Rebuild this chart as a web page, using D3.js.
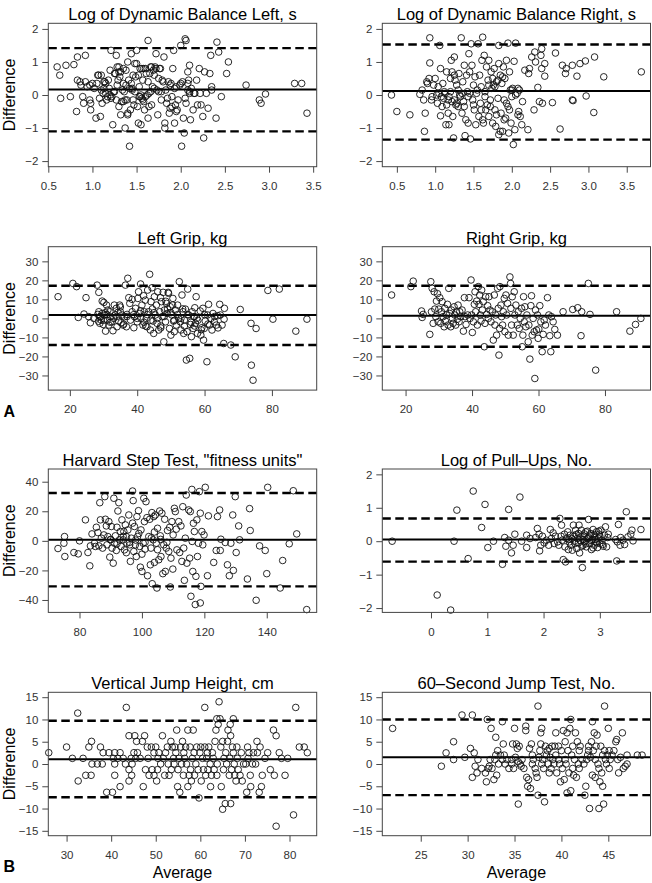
<!DOCTYPE html>
<html>
<head>
<meta charset="utf-8">
<script src="https://cdn.jsdelivr.net/npm/d3@7"></script>
<style>
  body { margin: 0; background: #fff; }
  svg text { font-family: "Liberation Sans", Arial, Helvetica, sans-serif; }
</style>
</head>
<body>
<script>
// Bland-Altman plots, values: [average, difference]
var dynLeft = [[0.6,0.85],[0.63,0.6],[0.64,-0.1],[0.7,0.9],[0.75,-0.05],[0.79,0.92],[0.83,1.15],[0.82,-0.5],[0.83,0.45],[0.86,0.4],[0.87,0.3],[0.89,-0.05],[0.9,-0.25],[0.92,1.2],[0.92,0.4],[0.94,0.25],[0.97,0.3],[0.97,-0.15],[0.98,-0.25],[0.98,-0.45],[1.0,0.35],[1.02,0.2],[1.04,-0.7],[1.07,0.6],[1.08,-0.1],[1.09,-0.65],[1.1,0.6],[1.11,-0.25],[1.13,0.2],[1.14,0.4],[1.15,0.05],[1.16,-0.15],[1.18,0.45],[1.19,0.2],[1.2,0.75],[1.21,1.35],[1.21,-0.1],[1.23,-0.9],[1.25,0.65],[1.27,1.2],[1.27,-0.15],[1.28,0.85],[1.29,0.45],[1.3,-0.35],[1.31,0.55],[1.32,-0.6],[1.34,0.15],[1.35,0.8],[1.35,0.35],[1.37,-1.0],[1.37,-0.15],[1.38,0.75],[1.4,-0.6],[1.4,1.0],[1.41,0.45],[1.42,-1.55],[1.43,-0.45],[1.44,1.25],[1.45,0.15],[1.46,-0.15],[1.48,0.95],[1.49,0.55],[1.5,1.35],[1.51,-0.35],[1.52,-0.85],[1.53,0.25],[1.54,-0.05],[1.54,0.8],[1.55,-0.9],[1.57,-0.15],[1.57,0.45],[1.58,0.8],[1.59,-0.45],[1.61,0.65],[1.63,-0.7],[1.63,1.65],[1.64,0.05],[1.66,0.85],[1.67,-0.3],[1.68,0.25],[1.69,0.75],[1.71,0.85],[1.72,1.25],[1.73,0.15],[1.74,-0.6],[1.75,0.5],[1.77,0.8],[1.78,-0.15],[1.79,0.45],[1.81,1.15],[1.82,-0.85],[1.82,-1.0],[1.83,0.15],[1.84,-0.25],[1.86,0.4],[1.87,-0.55],[1.88,-0.4],[1.89,0.35],[1.9,-0.05],[1.91,0.8],[1.92,1.35],[1.93,-0.85],[1.94,-0.3],[1.95,0.25],[1.96,-0.45],[1.97,-0.15],[1.99,0.3],[2.0,1.5],[2.01,-1.55],[2.02,0.4],[2.03,-0.7],[2.04,-1.15],[2.05,1.7],[2.06,1.65],[2.06,-0.25],[2.08,0.15],[2.08,0.7],[2.09,0.45],[2.1,0.05],[2.1,0.9],[2.11,-0.75],[2.12,0.2],[2.14,-0.45],[2.16,0.05],[2.18,0.45],[2.19,-0.3],[2.21,0.8],[2.22,0.05],[2.23,-0.3],[2.25,-0.65],[2.26,-1.3],[2.27,0.7],[2.29,0.05],[2.31,-0.4],[2.33,0.65],[2.34,1.2],[2.35,0.25],[2.35,0.15],[2.4,-0.7],[2.41,1.6],[2.43,1.3],[2.46,-0.05],[2.52,0.65],[2.54,1.0],[2.74,0.3],[2.89,-0.15],[2.91,-0.25],[2.96,0.03],[3.29,0.35],[3.37,0.35],[3.43,-0.55],
  [1.05,0.35],[1.1,0.15],[1.12,0.05],[1.15,0.35],[1.17,-0.05],[1.2,0.0],[1.22,-0.05],[1.24,0.1],[1.26,0.65],[1.3,0.85],[1.32,0.7],[1.33,-0.2],[1.36,0.1],[1.38,0.3],[1.39,-0.15],[1.42,0.2],[1.44,0.35],[1.46,0.6],[1.47,-0.3],[1.48,0.1],[1.5,0.95],[1.52,0.6],[1.53,-0.05],[1.55,0.0],[1.56,0.8],[1.58,-0.2],[1.6,0.8],[1.62,0.0],[1.63,0.4],[1.65,0.65],[1.67,0.85],[1.7,0.6],[1.72,0.8],[1.75,0.1],[1.78,0.1],[1.8,0.4],[1.85,-0.1],[1.88,0.3],[1.9,-0.35],[1.93,0.2],[1.95,-0.5],[2.0,0.35],[2.05,-0.1],[2.08,0.35],[2.1,0.1],[2.15,0.05],[1.06,0.6],[1.13,0.4],[1.28,0.3],[1.4,-0.55],[1.45,0.2],[1.56,-0.1],[1.6,-0.05],[1.64,-0.35],[1.66,0.1],[1.7,0.2],[1.76,0.8],[1.35,-0.2],[1.3,0.7],[1.25,0.1]];

var dynRight = [[0.43,0],[0.5,-0.5],[0.67,-0.6],[0.8,0.02],[0.83,0.15],[0.85,-0.15],[0.86,-1.1],[0.87,-0.55],[0.89,0.4],[0.9,0.35],[0.92,0.5],[0.93,1.73],[0.93,0.97],[0.95,-0.15],[0.96,-0.05],[0.98,0.3],[1.0,0.5],[1.02,0.0],[1.03,-0.25],[1.04,0.25],[1.06,1.5],[1.07,0.8],[1.08,-0.05],[1.09,-0.35],[1.07,-0.63],[1.1,0.35],[1.11,-0.1],[1.13,0.05],[1.14,-0.9],[1.15,0.7],[1.17,-0.15],[1.17,-0.55],[1.18,-0.9],[1.2,0.5],[1.21,1.05],[1.22,-0.2],[1.23,-0.65],[1.24,-1.3],[1.25,1.15],[1.26,0.45],[1.27,-0.3],[1.28,0.3],[1.3,-0.35],[1.3,0.15],[1.31,0.65],[1.33,-0.05],[1.34,1.73],[1.35,-0.55],[1.36,0.4],[1.37,-0.2],[1.38,0.9],[1.39,-1.23],[1.4,-0.75],[1.41,0.6],[1.43,-0.05],[1.43,-0.85],[1.44,1.25],[1.46,-1.33],[1.47,1.55],[1.48,0.9],[1.49,-0.15],[1.5,0.3],[1.51,-0.45],[1.52,0.55],[1.53,-0.9],[1.54,0.05],[1.56,1.55],[1.57,-0.65],[1.58,0.6],[1.59,-0.25],[1.6,0.25],[1.61,1.05],[1.62,1.75],[1.63,-0.85],[1.64,1.2],[1.65,-0.05],[1.66,-0.45],[1.67,0.85],[1.69,0.45],[1.7,1.05],[1.7,-0.65],[1.72,-0.15],[1.73,0.7],[1.74,0.2],[1.75,-0.85],[1.76,0.3],[1.77,0.8],[1.78,-0.45],[1.79,-0.95],[1.8,0.4],[1.82,-0.1],[1.83,1.5],[1.83,-1.2],[1.83,0.95],[1.85,-1.1],[1.86,-0.55],[1.87,0.35],[1.88,-1.1],[1.89,0.85],[1.9,-0.15],[1.91,0.5],[1.92,-0.7],[1.93,1.05],[1.95,-0.35],[1.96,-1.15],[1.97,0.7],[1.98,0.15],[1.95,1.57],[1.99,-0.85],[2.0,-0.05],[2.01,0.2],[2.02,-1.5],[2.03,1.02],[2.04,-1.05],[2.05,1.57],[2.07,0.05],[2.08,0.2],[2.09,-0.5],[2.1,0.15],[2.11,-0.65],[2.13,-0.9],[2.14,-0.2],[2.17,0.75],[2.21,-1.05],[2.22,0.65],[2.23,0.8],[2.26,1.15],[2.29,-0.45],[2.3,1.3],[2.31,1.0],[2.34,0.23],[2.36,-0.2],[2.38,1.2],[2.39,1.4],[2.39,0.8],[2.4,-0.25],[2.43,0.57],[2.43,0.95],[2.53,-0.23],[2.57,1.27],[2.63,-1.03],[2.66,0.9],[2.7,0.65],[2.71,0.8],[2.79,-0.15],[2.79,0.9],[2.8,-0.17],[2.85,0.57],[2.89,0.95],[2.96,1.03],[2.97,-0.03],[3.07,-0.53],[3.08,1.15],[3.2,0.55],[3.69,0.7],
  [1.05,0.05],[1.12,0.1],[1.18,-0.05],[1.2,0.1],[1.25,-0.15],[1.28,-0.25],[1.32,0.0],[1.35,0.05],[1.38,-0.35],[1.42,0.1],[1.45,0.05],[1.5,-0.3],[1.55,0.15],[1.6,-0.45],[1.65,0.1],[1.7,0.3],[1.72,-0.35],[1.75,0.5],[1.78,0.25],[1.8,-0.6],[1.85,0.6],[1.88,0.55],[1.9,-0.75],[1.93,-0.25],[1.97,-0.45],[2.0,0.15],[2.05,0.0],[2.08,-0.6],[1.25,0.6],[1.45,0.7],[1.62,-0.75],[1.68,-0.3],[1.82,0.45],[1.15,-0.3],[1.22,0.7]];

var gripLeft = [[16.5,11.4],[20.9,18.4],[22,16.7],[22.5,0.5],[24.2,2.3],[24.8,10.9],[25.6,0.9],[26.1,-2.3],[27.1,0],[28.1,17.5],[28.3,2.1],[28.6,13.7],[28.6,3.5],[28.9,-2.6],[29.1,0.9],[29.3,-0.9],[29.6,9.1],[29.6,2.6],[29.9,-3.2],[30.1,8.4],[30.3,1.8],[30.6,-6.7],[30.9,7.0],[31.1,-0.9],[31.3,4.4],[31.6,-3.5],[31.9,3.5],[32.1,0.9],[32.5,-1.8],[32.8,-6.5],[33.2,7.0],[33.5,1.8],[33.8,5.3],[34,-4.4],[34.3,3.2],[34.5,-1.4],[34.8,7.0],[35,3.5],[35.2,-2.3],[35.5,1.8],[35.8,-3.5],[36.2,0.9],[36.5,17.5],[36.8,-4.4],[37,2.1],[37.2,21.1],[37.5,10.9],[37.8,7.9],[38,-0.9],[38.5,3.5],[39,-4.9],[39.2,0.9],[39.5,5.3],[40,-1.8],[40.2,10.5],[40.4,14],[40.8,2.6],[41,18.1],[41.1,0],[41.4,7],[41.7,-3.5],[41.9,11.9],[42.1,3.5],[42.4,9.6],[42.7,0],[42.9,-4.4],[43.1,14.9],[43.4,3.5],[43.7,23.2],[43.9,-6.1],[44.1,8.8],[44.4,16.1],[44.7,-1.4],[44.9,-7.9],[45.1,11.4],[45.4,1.8],[45.7,7],[45.9,-2.6],[46.1,14],[46.4,-6.1],[46.7,3.5],[46.9,10.9],[47.2,8.8],[47.4,0.9],[47.7,13.7],[47.9,-12.3],[48.1,4.4],[48.4,-1.8],[48.7,7.9],[48.9,2.6],[49.2,13.7],[49.3,13.2],[49.6,-5.3],[49.8,6.1],[50,-8.8],[50.3,1.8],[50.6,10.5],[50.8,-1.4],[51,-7],[51.3,4.4],[51.6,-3.5],[52,7],[52.3,0],[52.5,19.3],[52.8,-1.8],[53,-6.1],[53.3,12.3],[53.6,3.5],[53.8,-7.9],[54,-0.9],[54.3,4.9],[54.6,-21.9],[54.8,-7],[55,15.4],[55.3,1.8],[55.6,-21],[55.8,-3.2],[56.1,-9.6],[56.3,3.5],[56.6,-5.3],[56.8,0.9],[57.1,5.6],[57.3,-2.6],[57.5,11.4],[57.7,0],[57.9,-7.9],[58.7,3.9],[58.9,-8.8],[59.2,-4.9],[59.5,5.3],[59.7,-11.4],[59.9,-5.3],[60.2,-1.4],[60.7,-22.8],[60.9,1.8],[61.2,7.4],[61.5,-3.5],[61.9,0],[62.2,-6.1],[62.5,2.6],[62.9,-1.8],[63.5,-3.5],[63.9,1.4],[64.5,7.4],[64.7,1.8],[65.2,-3.5],[65.7,-13.2],[65.8,-0.4],[65.9,5.3],[67.8,-14],[69.1,-20.2],[70.6,4.7],[73.8,-2.6],[73.9,-24.6],[74.4,-32.5],[75.3,-5.3],[78.8,14.7],[80.3,-0.4],[82.2,15.4],[87.1,-6.7],[90.4,-0.4],
  [29,1],[30,-1],[31,2],[32,-2],[33,0],[34,1],[36,-3],[37,1],[39,2],[40,0],[41,4],[42,-2],[43,2],[44,-1],[45,3],[46,0],[47,-4],[48,1],[49,5],[50,3],[51,-1],[52,2],[53,0],[54,-4],[55,2],[56,-2],[57,1],[58,-1],[59,-6],[60,2],[61,-3],[63,1],[64,-5],[28.5,-1.5],[30.5,3],[35,6],[38.5,10],[42.5,-4],[44.5,5],[47,-5],[48.5,9],[50.5,7],[53.5,5],[57,-4]];

var gripRight = [[15.8,12.3],[21.6,16.7],[22.3,19.6],[24.8,3.9],[25,0.5],[25.3,2.1],[27.3,-8.4],[27.6,19.3],[27.8,3.5],[28,15.8],[28.3,-2.6],[28.6,14],[28.8,4.9],[29.1,0.9],[29.3,9.1],[29.6,13],[29.8,-1.8],[30,4.9],[30.3,10.9],[30.6,-2.6],[30.8,3.5],[31,8.8],[31.3,0.9],[31.6,-4.4],[31.8,5.3],[32,-1.4],[32.3,1.8],[32.6,7.4],[32.8,-3.5],[33,15.8],[33.3,2.6],[33.6,-4.4],[33.8,4.4],[34.1,0],[34.3,-2.6],[34.6,6.1],[34.8,1.8],[35.1,-3.5],[35.3,3.5],[35.6,-0.4],[35.8,7],[36.1,-1.8],[36.3,3.5],[36.6,0.9],[37,4.4],[37.4,-6.7],[37.7,10.9],[37.9,0.9],[38.2,-3.2],[38.7,1.8],[39.1,10.9],[39.4,0],[39.7,20.2],[39.9,1.8],[40.1,-7.4],[40.4,-1.8],[40.7,7.4],[40.9,14],[41.1,3.5],[41.4,9.1],[41.6,-3.5],[41.9,16.7],[42.1,7.4],[42.3,12.3],[42.5,1.8],[42.7,-1.4],[42.9,14.9],[43.1,4.4],[43.4,8.8],[43.7,-14.9],[43.9,-2.6],[44.1,11.4],[44.4,2.1],[44.7,6.7],[44.9,0],[45.1,11.4],[45.4,4.4],[45.7,-1.8],[46.1,3.5],[46.4,-11.4],[46.7,12.3],[46.9,-3.5],[47.1,1.8],[47.4,-8.8],[47.7,15.8],[47.9,5.3],[48.1,-19.3],[48.3,-5.3],[48.4,16.7],[48.7,7],[48.9,0.9],[49.2,-3.5],[49.4,3.5],[49.7,10.5],[49.9,-7],[50.2,12.3],[50.4,1.8],[50.7,7.9],[50.9,-8.8],[51.4,21.8],[51.6,18.4],[51.7,5.3],[51.9,-3.5],[52.1,11.4],[52.4,-8.8],[52.7,14],[52.9,1.8],[53.2,7],[53.6,-3.5],[53.9,3.5],[54.2,-5.3],[54.5,0],[54.9,5.3],[55.1,-14.9],[55.3,-8.8],[55.5,11.4],[55.7,-1.8],[55.9,6.1],[56.2,-4.4],[56.5,1.8],[56.9,-12.3],[57.1,-3.5],[57.4,-21.4],[57.7,6.7],[57.9,11.9],[58.1,-8.8],[58.4,0],[58.7,-7],[58.9,-31.6],[59.1,4.4],[59.4,-6.1],[59.7,1.8],[59.9,-10.5],[60.1,-5.6],[60.4,6.7],[60.7,-1.8],[61.1,-17.5],[61.4,-8.4],[61.7,-0.9],[62.1,-3.5],[62.7,10.9],[63.1,1.8],[63.4,-9.1],[63.7,-17.5],[63.9,0.9],[64.4,-1.8],[64.9,-5.8],[65.7,-8.8],[67.4,3.5],[70.3,4.7],[71.8,5.6],[72.8,-9.1],[73,3.5],[75,18.4],[75.5,2.1],[77.2,-27.2],[83.5,3.5],[87.5,-6.7],[89.2,-3.2],[90.8,0]];

var harvard = [[73.1,-5.2],[75,-1.6],[75.2,2.9],[75.3,-10.6],[78.2,-7.9],[79.6,-8.8],[80,0],[81.9,14.2],[82.7,-7.9],[83.3,-16.9],[83.5,-3.4],[84,4.7],[84.8,-1.6],[85.1,-3.8],[85.4,9.2],[85.9,5.6],[86.2,-3.4],[86.5,25.8],[86.7,14.2],[87,1.8],[87.4,-4.9],[87.8,4],[88.1,29.9],[88.3,14.6],[88.6,10.1],[88.8,-2.7],[89.1,2.9],[89.4,13],[89.7,-11],[89.9,0.7],[90.2,9.7],[90.4,-4.9],[90.8,-15.1],[91,28.8],[91.2,-1.6],[91.5,3.4],[91.8,-6.5],[92,9.2],[92.3,20.2],[92.6,25.8],[92.8,0.7],[93.1,6.3],[93.3,-3.8],[93.6,14.2],[94,0.7],[94.2,6.3],[94.4,-6.1],[94.7,10.8],[95,2.9],[95.2,-1.6],[95.5,7.4],[95.8,17.5],[96.1,-2.7],[96.3,-13.9],[96.6,1.8],[97,33.7],[97.2,27.2],[97.4,-7.2],[97.6,9.7],[97.9,-2.7],[98.2,-10.6],[98.4,16.4],[98.6,2.9],[98.9,20.4],[99.3,-3.8],[99.5,-17.8],[99.7,7.4],[100,-20.7],[100.4,-1.6],[100.6,28.8],[100.8,13],[101,-5.6],[101.3,26.5],[101.6,15.7],[101.8,-23.6],[102.2,2.9],[102.5,14.6],[102.7,-16.2],[102.9,-4.9],[103.2,19.1],[103.3,-29],[103.6,0.7],[103.8,16.4],[104,-14.6],[104.3,17.5],[104.6,-1.6],[104.8,-31.9],[105,8.5],[105.4,-12.8],[105.7,20.2],[105.9,3.4],[106.1,-10.6],[106.4,18.7],[106.7,-22.2],[107,-2.7],[107.3,14.6],[107.5,-20.7],[107.8,-4.9],[108.2,7],[108.6,-7.2],[108.9,9.2],[109.1,-31.2],[109.3,-11.7],[109.6,13],[109.9,-19.1],[110.4,22],[110.7,19.8],[111,7.9],[111.2,-6.1],[111.8,13],[112.1,-7.9],[112.5,10.1],[112.8,-13.9],[113.1,23.1],[113.4,-4.9],[113.6,-26.7],[113.9,1.8],[114.2,31],[114.4,-15.1],[115,20.9],[115.3,-11.7],[115.5,19.8],[115.7,-37.5],[116,34.8],[116.1,-0.4],[116.3,-20.7],[116.5,11.9],[116.8,6.3],[117.1,-43.1],[117.3,-24],[117.6,14.2],[117.8,-10.6],[118.1,-1.6],[118.4,33.3],[118.7,18.7],[118.7,-42],[118.9,-30.8],[119.2,6.3],[119.5,-2.7],[119.9,4],[120.3,36.2],[121,-23.6],[121.3,16.9],[123,-14.6],[123.8,-6.5],[124.2,16.4],[124.9,20.9],[125.1,-6.5],[125.3,1.1],[126.7,-1.1],[127.4,-16.2],[128,-23.6],[128.5,-1.6],[129.1,17.5],[129.3,-20],[129.9,29.9],[130.2,-7.9],[131,10.1],[131.3,0.7],[133.8,-25.8],[134.5,21.8],[134.7,7],[136.6,-40.2],[137.7,-3.4],[139.5,-6.5],[140,-22.2],[140.3,36.2],[144.3,-31.9],[145.1,-13.3],[147.2,-2],[148.5,33.9],[149.6,4.7],[152.8,-46.5],
  [90,1],[92,-2],[94,3],[96,-1],[98,0.5],[99,5],[101,-1],[103,2],[105,-6],[106,1],[108,-1],[110,4],[95,-8],[97,12],[100,-9],[104,6]];

var pullUps = [[-0.69,0],[0.11,-1.61],[0.35,-2.06],[0.41,0],[0.46,0.93],[0.66,-0.52],[0.75,1.5],[0.9,0.41],[0.96,1.1],[1.01,-0.19],[1.11,0],[1.27,-0.69],[1.31,0.11],[1.33,-0.15],[1.38,0.95],[1.38,0.03],[1.43,-0.35],[1.46,-0.12],[1.49,0.21],[1.58,1.32],[1.61,0],[1.7,0.18],[1.7,-0.19],[1.76,0.08],[1.86,0.11],[1.89,0.38],[1.92,0.21],[1.93,-0.29],[1.95,-0.12],[1.98,0.15],[2.01,-0.05],[2.05,0.03],[2.09,-0.12],[2.12,0.35],[2.14,0.08],[2.17,0.25],[2.19,-0.07],[2.21,0.15],[2.25,-0.02],[2.27,-0.12],[2.29,0.68],[2.31,0.15],[2.32,0.48],[2.33,0.03],[2.35,-0.55],[2.37,0.21],[2.38,-0.17],[2.39,-0.62],[2.41,0.08],[2.43,0.28],[2.44,-0.25],[2.46,-0.02],[2.47,0.18],[2.49,-0.12],[2.5,0.08],[2.51,-0.27],[2.53,0.48],[2.54,0.15],[2.56,-0.07],[2.57,0.33],[2.59,-0.22],[2.6,0.08],[2.62,0.23],[2.63,0.48],[2.64,-0.35],[2.66,0.01],[2.67,0.33],[2.69,-0.79],[2.7,-0.12],[2.72,0.15],[2.73,-0.02],[2.75,0.28],[2.76,-0.17],[2.78,0.08],[2.8,0.65],[2.82,-0.07],[2.84,0.23],[2.85,-0.25],[2.87,0.05],[2.88,0.35],[2.9,-0.12],[2.91,0.13],[2.93,-0.02],[2.94,0.28],[2.96,-0.19],[2.97,0.08],[2.99,0.21],[3.0,-0.07],[3.02,0.33],[3.04,0.03],[3.06,-0.15],[3.08,0.18],[3.1,0.43],[3.12,-0.17],[3.14,0.11],[3.15,0.21],[3.28,0.05],[3.3,-0.59],[3.31,-0.02],[3.33,0.5],[3.36,-0.12],[3.37,0.11],[3.41,0.03],[3.44,-0.1],[3.47,0.88],[3.5,0.13],[3.55,0.21],[3.57,0.33],[3.59,0.01],[3.73,0.35],
  [2.45,0.05],[2.55,0.0],[2.65,0.12],[2.7,0.05],[2.75,-0.08],[2.8,0.1],[2.85,0.02],[2.9,0.2],[2.95,-0.05],[3.0,0.15],[3.05,-0.1],[2.58,0.2],[2.68,-0.15],[2.78,0.3],[2.88,-0.2],[2.98,0.3],[2.62,-0.05],[2.72,0.22],[2.82,0.18],[2.92,0.05]];

var vertJump = [[26,2.54],[30,3.81],[31.3,1.27],[32.5,11.43],[32.6,-3.81],[33.7,1.27],[34.3,-2.54],[35,3.81],[35.5,-2.54],[35.6,5.08],[35.7,0],[36.9,0],[37.6,3.81],[38,0],[38.2,2.54],[39,-6.35],[39.5,2.54],[40.3,-6.35],[40.5,1.27],[40.8,2.54],[40.8,0],[40.8,-2.54],[41.5,1.27],[42,2.54],[42,-5.08],[42.7,1.27],[43.2,0],[43.4,12.7],[44,6.35],[44,-1.27],[44,-3.81],[44.5,1.27],[44.6,-2.54],[44.7,0],[45.1,2.54],[45.3,6.35],[45.5,1.27],[45.7,5.08],[45.9,2.54],[46.5,1.27],[47,5.08],[47.2,-5.08],[47.5,6.35],[47.7,-1.27],[48.1,3.81],[48.3,1.27],[48.5,-2.54],[49,3.81],[49.2,-1.27],[49.6,2.54],[49.6,-2.54],[50,3.81],[50.2,-3.81],[50.4,-1.27],[50.5,1.27],[50.7,2.54],[51.1,0],[51.5,6.35],[51.7,1.27],[52,-2.54],[52.2,2.54],[52.6,3.81],[52.8,0],[53,-2.54],[53.4,5.08],[53.5,-1.27],[53.7,3.81],[54,1.27],[54.1,0],[54.3,3.81],[54.5,2.54],[54.7,7.62],[54.9,-5.08],[55,-1.27],[55.2,1.27],[55.4,-6.35],[55.6,3.81],[55.8,0],[56,5.08],[56.2,-2.54],[56.3,2.54],[56.5,1.27],[56.7,3.81],[56.9,0],[57.2,7.62],[57.2,-5.08],[57.5,-2.54],[57.7,3.81],[57.8,-1.27],[58,-3.81],[58.2,1.27],[58.4,7.62],[58.6,2.54],[58.7,-2.54],[59,0],[59.2,3.81],[59.5,-1.27],[59.7,-7.62],[59.9,2.54],[60.1,3.81],[60.2,-3.81],[60.5,1.27],[60.7,-1.27],[61,12.7],[61,3.81],[61.2,-2.54],[61.4,1.27],[61.6,2.54],[61.7,-1.27],[61.9,3.81],[62.2,0],[62.3,-5.08],[62.5,-2.54],[62.7,2.54],[62.9,1.27],[63.1,-1.27],[63.3,5.08],[63.5,7.62],[63.7,10.16],[63.7,-2.54],[63.8,0],[64,8.89],[64.2,13.97],[64.4,10.16],[64.6,3.81],[64.7,-5.08],[65,-10.16],[65,5.08],[65.2,-1.27],[65.3,1.27],[65.6,-8.89],[65.7,2.54],[65.9,0],[66.1,5.08],[66.2,7.62],[66.5,-2.54],[66.6,1.27],[66.7,8.89],[66.8,-8.89],[66.8,6.35],[67,-1.27],[67.2,3.81],[67.4,10.16],[67.4,2.54],[67.6,0],[67.7,-2.54],[68,-3.81],[68.2,3.81],[68.3,1.27],[68.5,-1.27],[68.9,-2.54],[69.2,2.54],[69.4,-3.81],[69.7,0],[70.2,0],[70.4,-6.35],[70.6,3.81],[70.7,1.27],[70.9,2.54],[71.2,-2.54],[71.3,-5.08],[71.7,0],[71.9,2.54],[72.4,0],[72.7,5.08],[72.8,2.54],[73.2,-6.35],[73.4,3.81],[73.7,-5.08],[73.9,-2.54],[74.5,1.27],[75.1,2.54],[75.7,-1.27],[76.4,7.62],[76.6,-2.54],[77,6.35],[77,-13.97],[77.7,2.54],[78.2,1.27],[79,-2.54],[79.6,1.27],[80.9,-11.43],[81.4,12.7],[82.2,3.81],[83.3,3.81],[84,2.54]];

var jump60 = [[22,8],[27.2,-0.5],[27.7,2.5],[28.5,5],[28.5,1],[29.4,11],[29.7,1.5],[30.3,3.5],[30.5,11],[30.5,-3],[30.7,2.5],[30.8,-0.5],[31,-2],[31.1,1],[31.5,-1],[31.9,-2],[32,-4],[32.1,10],[32.2,-1],[32.3,-0.5],[32.4,1],[32.5,8],[32.6,-1],[32.8,-3.5],[32.9,1],[33,6],[33,2],[33.1,-2.5],[33.2,3],[33.3,0],[33.5,2],[33.7,1],[33.7,9.5],[33.8,4.5],[33.9,2],[34,0],[34.2,1],[34.4,-1],[34.7,1],[34.7,0],[34.8,4.5],[34.9,-1],[35,8],[35.1,1.5],[35.2,4.5],[35.3,3.5],[35.4,0.5],[35.4,-9],[35.5,4],[35.6,0],[35.7,-0.5],[35.8,1],[36,-1],[36.2,7.5],[36.2,8.5],[36.3,-3],[36.4,-5],[36.5,-3.5],[36.6,3.5],[36.7,-5.5],[36.8,4.5],[36.9,2],[36.9,0],[37,1],[37.2,-1],[37.3,-2],[37.4,-3],[37.5,13],[37.5,-7],[37.6,1.5],[37.7,3],[37.8,4.5],[37.8,7],[37.9,0],[37.9,8],[38,1],[38.1,-1],[38.2,-8.5],[38.3,4],[38.4,2],[38.5,3],[38.6,0],[38.7,-2],[38.7,3.5],[38.8,1.5],[38.9,-1],[39,4],[39.1,1],[39.2,0],[39.3,4],[39.4,2],[39.4,7],[39.5,-2],[39.7,4],[39.7,1],[39.8,0],[39.9,-4],[40,3],[40.1,-1],[40.2,7.5],[40.3,-3.5],[40.4,5],[40.4,1],[40.5,0],[40.6,7],[40.6,-6.5],[40.7,3],[40.8,-2],[40.9,8],[41,10],[41,-6],[41.1,2],[41.2,-1],[41.2,4],[41.3,-2.5],[41.4,1],[41.5,7],[41.6,-3],[41.7,5],[41.8,0],[41.9,3],[41.9,-1],[42,4],[42.2,1],[42.4,0],[42.5,-7],[42.6,-5],[42.7,1],[42.8,2],[42.9,3],[42.9,4],[43,-10],[43.1,1.5],[43.2,5],[43.3,9.5],[43.3,-2.5],[43.4,3],[43.5,7],[43.6,1],[43.6,-3],[43.7,4],[43.8,6.5],[43.9,0],[44,-10],[44,-1],[44.1,-4],[44.2,4],[44.3,-2],[44.4,2],[44.4,-5],[44.5,-9],[44.6,13],[44.6,3],[44.7,1],[44.8,0],[44.9,2],[45,8],[45.1,-1],[45.1,3],[45.2,1],[45.4,2],[45.6,3],[45.8,5],[45.9,5.5],[46,1],[46.1,-2],[46.3,1.5],[46.5,7],[46.6,-1],[46.8,-0.5],[47,0],[47,2],[48.1,2],[48.6,2]];

var titles = ["Log of Dynamic Balance Left, s", "Log of Dynamic Balance Right, s",
  "Left Grip, kg", "Right Grip, kg",
  "Harvard Step Test, \"fitness units\"", "Log of Pull\u2013Ups, No.",
  "Vertical Jump Height, cm", "60\u2013Second Jump Test, No."];
var series = [dynLeft, dynRight, gripLeft, gripRight, harvard, pullUps, vertJump, jump60];
// mean difference and limits of agreement [mean, upper, lower]
var limits = [[0.17,1.42,-1.1],[0.12,1.53,-1.35],[1.75,17.2,-14.0],[1.4,17.2,-14.9],
  [0.7,32.4,-30.8],[0.05,0.68,-0.61],[1.05,9.7,-7.45],[1.5,10.0,-7.0]];
var xDomains = [[0.5,3.54],[0.31,3.81],[13.6,93.3],[13.0,93.7],[70,156],[-0.865,3.9],[25.9,86.1],[20.9,49.5]];
var yDomains = [[-2.17,2.17],[-2.17,2.17],[-37.7,37.7],[-37.7,37.7],[-48.4,48.6],[-2.13,2.16],[-16.1,16.1],[-16.1,16.1]];
var xTicks = [[0.5,1,1.5,2,2.5,3,3.5],[0.5,1,1.5,2,2.5,3,3.5],[20,40,60,80],[20,40,60,80],
  [80,100,120,140],[0,1,2,3],[30,40,50,60,70,80],[25,30,35,40,45]];
var yTicks = [[-2,-1,0,1,2],[-2,-1,0,1,2],[-30,-20,-10,0,10,20,30],[-30,-20,-10,0,10,20,30],
  [-40,-20,0,20,40],[-2,-1,0,1,2],[-15,-10,-5,0,5,10,15],[-15,-10,-5,0,5,10,15]];
var xFormats = [".1f", ".1f", "d", "d", "d", "d", "d", "d"];

var W = 652, H = 883;
var colX = [48.3, 382.3], colW = [268.4, 268.2];
var rowY = [23.3, 246.7, 469, 692.3], rowH = 143.4;

var svg = d3.select("body").append("svg")
    .attr("width", W)
    .attr("height", H);

var minus = function(s){ return s.replace("-", "\u2212"); };

series.forEach(function(data, i){
  var col = i % 2, row = Math.floor(i / 2);
  var x0 = colX[col], y0 = rowY[row], w = colW[col], h = rowH;

  var x = d3.scaleLinear().domain(xDomains[i]).range([0, w]);
  var y = d3.scaleLinear().domain(yDomains[i]).range([h, 0]);

  var g = svg.append("g").attr("transform", "translate(" + x0 + "," + y0 + ")");

  // axes
  var xa = g.append("g").attr("transform", "translate(0," + h + ")")
    .call(d3.axisBottom(x).tickValues(xTicks[i]).tickSize(6).tickPadding(9)
      .tickFormat(function(d){ return minus(d3.format(xFormats[i])(d)); }));
  var ya = g.append("g")
    .call(d3.axisLeft(y).tickValues(yTicks[i]).tickSize(6).tickPadding(4)
      .tickFormat(function(d){ return minus(d3.format("d")(d)); }));
  [xa, ya].forEach(function(a){
    a.select(".domain").remove();
    a.selectAll("line").attr("stroke", "#333").attr("stroke-width", 0.9);
    a.selectAll("text").attr("fill", "#333").style("font-size", "11.5px")
      .style("font-family", "'Liberation Sans', Arial, sans-serif");
  });

  // mean and limits
  limits[i].forEach(function(v, k){
    g.append("line")
      .attr("x1", 0).attr("x2", w)
      .attr("y1", y(v)).attr("y2", y(v))
      .attr("stroke", "#000")
      .attr("stroke-width", k == 0 ? 2 : 2.4)
      .attr("stroke-dasharray", k == 0 ? null : "8.5,4.5");
  });

  // points
  g.append("g").selectAll("circle")
    .data(data)
    .enter().append("circle")
      .attr("cx", function(d){ return x(d[0]); })
      .attr("cy", function(d){ return y(d[1]); })
      .attr("r", 3.3)
      .attr("fill", "none")
      .attr("stroke", "#111")
      .attr("stroke-width", 0.9);

  // box
  g.append("rect")
    .attr("width", w).attr("height", h)
    .attr("fill", "none")
    .attr("stroke", "#444")
    .attr("stroke-width", 1);

  g.append("text")
    .attr("x", w / 2).attr("y", -3)
    .attr("text-anchor", "middle")
    .style("font-size", "16.5px")
    .text(titles[i]);

  if (col == 0) {
    g.append("text")
      .attr("transform", "translate(" + (15 - x0) + "," + (h / 2) + ") rotate(-90)")
      .attr("text-anchor", "middle")
      .style("font-size", "16px")
      .text("Difference");
  }
  if (row == 3) {
    g.append("text")
      .attr("x", w / 2).attr("y", h + 42)
      .attr("text-anchor", "middle")
      .style("font-size", "16px")
      .text("Average");
  }
});

svg.append("text").attr("x", 3.5).attr("y", 416.7)
  .style("font-size", "16px").style("font-weight", "bold").text("A");
svg.append("text").attr("x", 3.5).attr("y", 871.7)
  .style("font-size", "16px").style("font-weight", "bold").text("B");
</script>
</body>
</html>
